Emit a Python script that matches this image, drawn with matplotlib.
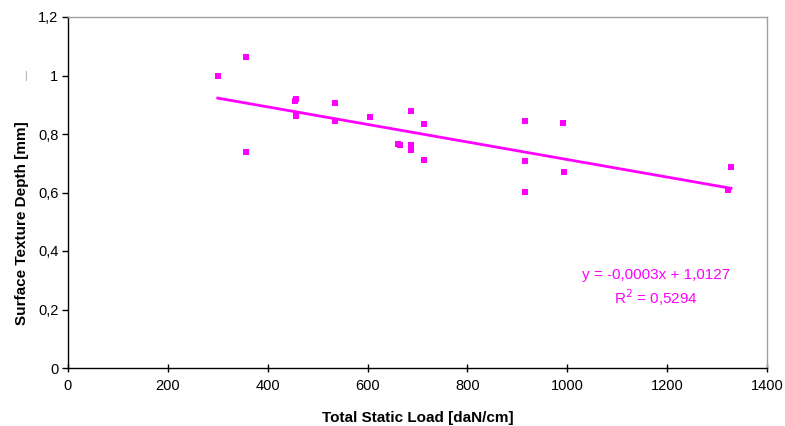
import numpy as np
import matplotlib
matplotlib.use("Agg")
import matplotlib.pyplot as plt

# Data
load = [300, 356, 356, 456, 454, 456, 456, 534, 534, 604, 660, 664,
        686, 686, 686, 714, 714, 916, 992, 916, 994, 916, 1328, 1322]
depth = [1.000, 1.063, 0.737, 0.919, 0.912, 0.861, 0.866, 0.905, 0.843,
         0.857, 0.765, 0.761, 0.878, 0.761, 0.744, 0.833, 0.710, 0.843,
         0.837, 0.706, 0.669, 0.603, 0.686, 0.610]

trend_slope = -0.0003
trend_intercept = 1.0127
r_squared = 0.5294

x_ticks = [0, 200, 400, 600, 800, 1000, 1200, 1400]
y_ticks = [0, 0.2, 0.4, 0.6, 0.8, 1.0, 1.2]
y_tick_labels = ["0", "0,2", "0,4", "0,6", "0,8", "1", "1,2"]

plt.rcParams["font.family"] = ["Liberation Sans", "DejaVu Sans"]
magenta = "#FF00FF"

fig = plt.figure(figsize=(7.85, 4.26), dpi=100)
ax = fig.add_axes([68 / 785, 58 / 426, 699 / 785, 351 / 426])

ax.plot(load, depth, linestyle="none", marker="s", markersize=5,
        color=magenta, markeredgewidth=0)

xs = np.array([min(load), max(load)])
ax.plot(xs, trend_slope * xs + trend_intercept, color=magenta, linewidth=2)

ax.set_xlim(0, 1400)
ax.set_ylim(0, 1.2)
ax.set_xticks(x_ticks)
ax.set_xticklabels([str(t) for t in x_ticks])
ax.set_yticks(y_ticks)
ax.set_yticklabels(y_tick_labels)
ax.tick_params(axis="x", direction="inout", length=6, width=1, labelsize=10.5, pad=5)
ax.tick_params(axis="y", direction="out", length=4, width=1, labelsize=10.5, pad=3)

for side in ("top", "right"):
    ax.spines[side].set_color("#a0a0a0")
    ax.spines[side].set_linewidth(1)
for side in ("left", "bottom"):
    ax.spines[side].set_color("black")
    ax.spines[side].set_linewidth(1)

ax.set_xlabel("Total Static Load [daN/cm]", fontsize=11, fontweight="bold", labelpad=13)
ax.set_ylabel("Surface Texture Depth [mm]", fontsize=11, fontweight="bold")
ax.yaxis.set_label_coords(-0.056, 0.414)

eq_text = f"y = {trend_slope:.4f}x + {trend_intercept:.4f}".replace(".", ",")
r2_text = f"R$^2$ = {r_squared:.4f}".replace(".", ",")
ax.text(1178, 0.319, eq_text, color=magenta, fontsize=11, ha="center", va="center")
ax.text(1178, 0.240, r2_text, color=magenta, fontsize=11, ha="center", va="center")

# small stray mark left of the y label in the original
fig.text(25 / 785, 1 - 76 / 426, "|", color="#909090", fontsize=7, ha="center", va="center")

fig.savefig("out.png", dpi=100)
